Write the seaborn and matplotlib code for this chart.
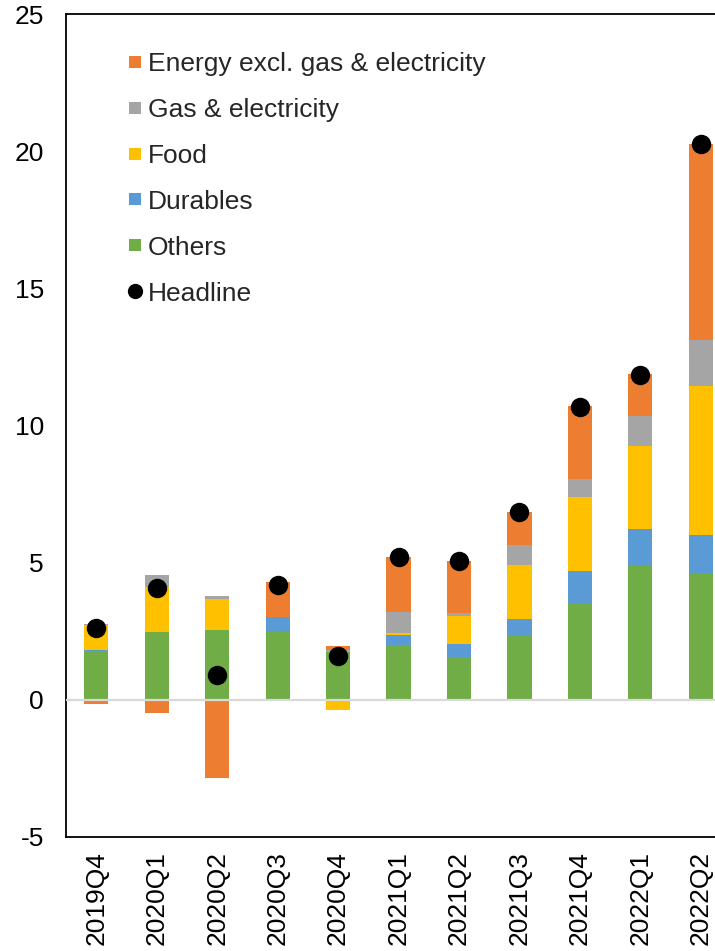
import numpy as np
import pandas as pd
import matplotlib
matplotlib.use("Agg")
import matplotlib.pyplot as plt
from matplotlib.lines import Line2D
import seaborn as sns

# Contributions to headline inflation by component (percentage points)
quarters = ["2019Q4", "2020Q1", "2020Q2", "2020Q3", "2020Q4", "2021Q1",
            "2021Q2", "2021Q3", "2021Q4", "2022Q1", "2022Q2"]
others = [1.76, 2.47, 2.53, 2.52, 1.76, 1.99, 1.52, 2.31, 3.54, 4.87, 4.61]
durables = [0.07, -0.03, -0.03, 0.49, 0.0, 0.36, 0.53, 0.63, 1.15, 1.36, 1.40]
food = [0.91, 1.66, 1.15, 0.0, -0.38, 0.07, 1.00, 1.99, 2.71, 3.03, 5.43]
gas_elec = [0.03, 0.43, 0.11, 0.0, 0.06, 0.79, 0.13, 0.72, 0.64, 1.10, 1.66]
energy = [-0.16, -0.44, -2.83, 1.30, 0.15, 1.98, 1.88, 1.19, 2.66, 1.50, 7.17]
headline = [2.61, 4.07, 0.91, 4.20, 1.58, 5.19, 5.05, 6.84, 10.68, 11.85, 20.27]

series_names = ["Others", "Durables", "Food", "Gas & electricity",
                "Energy excl. gas & electricity"]
series_values = [others, durables, food, gas_elec, energy]
series_colors = ["#70AD47", "#5B9BD5", "#FFC000", "#A5A5A5", "#ED7D31"]

sns.set_theme(style="white")
plt.rcParams["font.family"] = ["Liberation Sans", "DejaVu Sans"]
plt.rcParams["axes.unicode_minus"] = False

W, H = 715, 951
fig = plt.figure(figsize=(W / 100, H / 100), dpi=100)
ax_left, ax_right, ax_top, ax_bottom = 66, 731, 14, 837
ax = fig.add_axes([ax_left / W, 1 - ax_bottom / H,
                   (ax_right - ax_left) / W, (ax_bottom - ax_top) / H])

vals = np.array(series_values, dtype=float)
pos_cum = np.cumsum(np.clip(vals, 0, None), axis=0)
neg_cum = np.cumsum(np.clip(vals, None, 0), axis=0)

# Stacked bars: draw each cumulative level from the outermost inwards so the
# inner segments overlay the outer ones.
for k in range(len(series_names) - 1, -1, -1):
    for cum in (pos_cum, neg_cum):
        df = pd.DataFrame({"quarter": quarters, "value": cum[k]})
        sns.barplot(data=df, x="quarter", y="value", order=quarters,
                    color=series_colors[k], saturation=1, width=0.4,
                    errorbar=None, linewidth=0, ax=ax, zorder=2)

# Zero line over the bars
ax.axhline(0, color="#d9d9d9", lw=1.6, zorder=3)

# Headline inflation dots
hdf = pd.DataFrame({"quarter": quarters, "value": headline})
sns.stripplot(data=hdf, x="quarter", y="value", order=quarters, jitter=False,
              color="black", size=14, linewidth=0, ax=ax, zorder=5)

ax.set_xlim(-0.5, len(quarters) - 0.5)
ax.set_ylim(-5, 25)
ax.set_yticks(np.arange(-5, 26, 5))
ax.set_xlabel("")
ax.set_ylabel("")
ax.tick_params(axis="y", length=0, pad=16, labelsize=19, colors="black")
ax.tick_params(axis="x", length=0, pad=10, labelsize=19, colors="black",
               labelrotation=90)
for side in ("left", "top", "bottom", "right"):
    ax.spines[side].set_visible(True)
    ax.spines[side].set_color("black")
    ax.spines[side].set_linewidth(1.3)
ax.grid(False)

# Legend: squares for the components, a dot for the headline rate
handles = []
for name, color in zip(series_names[::-1], series_colors[::-1]):
    handles.append(Line2D([], [], linestyle="none", marker="s", markersize=9,
                          markerfacecolor=color, markeredgewidth=0,
                          label=name))
handles.append(Line2D([], [], linestyle="none", marker="o", markersize=11,
                      markerfacecolor="black", markeredgewidth=0,
                      label="Headline"))
leg = ax.legend(handles=handles, loc="upper left",
                bbox_to_anchor=((127 - ax_left) / (ax_right - ax_left),
                                1 - (52 - ax_top) / (ax_bottom - ax_top)),
                frameon=False, fontsize=19, borderpad=0, borderaxespad=0,
                handlelength=0.6, handletextpad=0.2, labelspacing=0.83)

fig.savefig("out.png", dpi=100)
